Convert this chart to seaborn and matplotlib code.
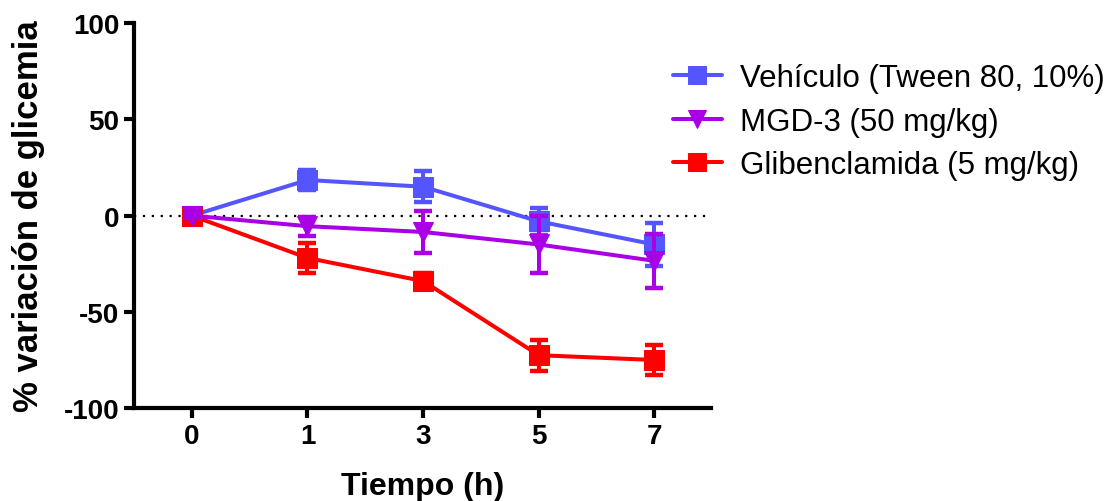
import numpy as np
import pandas as pd
import seaborn as sns
import matplotlib.pyplot as plt

# datos (media +/- EEM)
tiempos = ['0', '1', '3', '5', '7']
vehiculo = [0, 18.5, 15, -3, -15]
vehiculo_err = [2, 5, 8, 7, 11]
mgd3 = [0, -5.5, -8.5, -15, -23.5]
mgd3_err = [1, 5, 11, 15, 14]
glib = [0, -22, -34, -72.5, -75]
glib_err = [1, 8, 4, 8, 8]

nombres = ['Vehículo (Tween 80, 10%)', 'MGD-3 (50 mg/kg)', 'Glibenclamida (5 mg/kg)']
colores = ['#5555FF', '#AA00E6', '#FF0000']
marcadores = ['s', 'v', 's']

sns.set_style("ticks")
plt.rcParams['font.family'] = ['Liberation Sans', 'DejaVu Sans']
plt.rcParams['axes.unicode_minus'] = False
for k in ['text.color', 'axes.labelcolor', 'xtick.color', 'ytick.color', 'axes.edgecolor']:
    plt.rcParams[k] = 'black'

fig = plt.figure(figsize=(11.12, 5.02), dpi=100)
ax = fig.add_axes([0.1205, 0.185, 0.519, 0.767])

pos = np.arange(len(tiempos))
series = [(vehiculo, vehiculo_err), (mgd3, mgd3_err), (glib, glib_err)]
orden_z = [3, 5, 4]  # morado encima, luego rojo, luego azul

for (vals, errs), nombre, color, mk, z in zip(series, nombres, colores, marcadores, orden_z):
    df = pd.DataFrame({'pos': pos, 'valor': vals})
    sns.lineplot(data=df, x='pos', y='valor', ax=ax, color=color, marker=mk,
                 markersize=14, markeredgecolor=color, linewidth=2.9,
                 label=nombre, zorder=z)
    ax.errorbar(pos, vals, yerr=errs, fmt='none', ecolor=color, elinewidth=2.9,
                capsize=6.5, capthick=3.2, zorder=z)

ax.axhline(0, color='black', linestyle=(0, (1, 3)), linewidth=1.6, zorder=1)

ax.set_xlim(-0.5, 4.49)
ax.set_ylim(-100, 100)
ax.set_xticks(pos)
ax.set_xticklabels(tiempos)
ax.set_yticks([-100, -50, 0, 50, 100])

for s in ['top', 'right']:
    ax.spines[s].set_visible(False)
for s in ['left', 'bottom']:
    ax.spines[s].set_linewidth(3)
ax.tick_params(axis='both', width=3, length=7.5, labelsize=20, pad=3)
for lab in ax.get_xticklabels() + ax.get_yticklabels():
    lab.set_fontweight('bold')

ax.set_xlabel('Tiempo (h)', fontsize=23, fontweight='bold')
ax.xaxis.set_label_coords(0.5, -0.163)
ax.set_ylabel('% variación de glicemia', fontsize=25, fontweight='bold')
ax.yaxis.set_label_coords(-0.155, 0.5)

ax.legend(loc='upper left', bbox_to_anchor=(0.605, 0.873), bbox_transform=fig.transFigure,
          frameon=False, fontsize=22.5, handlelength=1.57, handletextpad=0.58,
          labelspacing=0.44, borderpad=0, borderaxespad=0, markerscale=0.9)

fig.savefig('out.png', dpi=100)
